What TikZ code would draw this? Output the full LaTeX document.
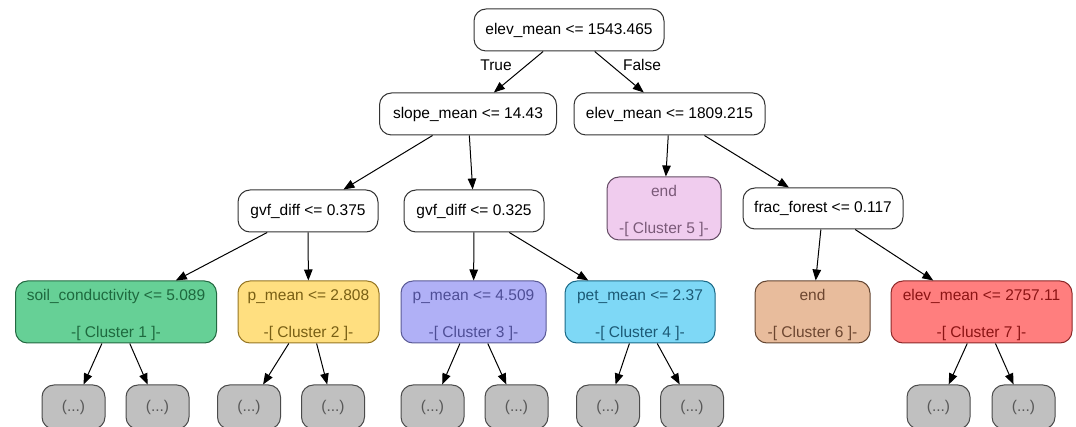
\documentclass[tikz,border=0pt]{standalone}
\usepackage{fontspec}
\setmainfont{Liberation Sans}
\usetikzlibrary{arrows.meta}

% node fills, borders and text tints
\definecolor{greenfill}{RGB}{102,208,150}
\definecolor{greenline}{RGB}{35,105,65}
\definecolor{greentext}{RGB}{30,105,62}
\definecolor{yellowfill}{RGB}{255,223,128}
\definecolor{yellowline}{RGB}{150,118,35}
\definecolor{yellowtext}{RGB}{120,95,20}
\definecolor{lavfill}{RGB}{176,176,246}
\definecolor{lavline}{RGB}{90,90,150}
\definecolor{lavtext}{RGB}{78,78,150}
\definecolor{cyanfill}{RGB}{126,216,246}
\definecolor{cyanline}{RGB}{25,105,135}
\definecolor{cyantext}{RGB}{28,90,118}
\definecolor{pinkfill}{RGB}{240,204,238}
\definecolor{pinkline}{RGB}{100,75,100}
\definecolor{pinktext}{RGB}{122,90,120}
\definecolor{peachfill}{RGB}{232,188,156}
\definecolor{peachline}{RGB}{100,70,50}
\definecolor{peachtext}{RGB}{108,70,48}
\definecolor{redfill}{RGB}{255,126,126}
\definecolor{redline}{RGB}{140,40,40}
\definecolor{redtext}{RGB}{140,20,20}
\definecolor{greyfill}{RGB}{192,192,192}
\definecolor{greyline}{RGB}{75,75,75}
\definecolor{greytext}{RGB}{88,88,88}

% strut that lifts the top of a two-line label
\newcommand{\toplift}{\rule{0pt}{16.5pt}}

\tikzset{
  treenode/.style={draw=black!80, fill=white, rounded corners=12pt, inner sep=0pt,
    line width=1pt, align=center, minimum height=42pt,
    font=\fontsize{15.5}{18}\selectfont},
  clusternode/.style={treenode, minimum height=62pt},
  leafnode/.style={treenode, draw=greyline, fill=greyfill, text=greytext,
    minimum width=63pt, minimum height=44pt},
  edge/.style={draw=black, line width=1pt, -{Triangle[length=11pt,width=8.5pt]}},
  edgelabel/.style={font=\fontsize{15.5}{18}\selectfont}
}

\begin{document}
\begin{tikzpicture}[x=1pt,y=-1pt]
\useasboundingbox (0,0) rectangle (1076,427);
\clip (0,0) rectangle (1076,427);

% split nodes
\node[treenode, minimum width=190pt] (root) at (569,30) {elev\_mean <= 1543.465};
\node[treenode, minimum width=177pt] (slope) at (468,114) {slope\_mean <= 14.43};
\node[treenode, minimum width=191pt] (elevA) at (669.5,114) {elev\_mean <= 1809.215};
\node[treenode, minimum width=140pt] (gvfA) at (308,211) {gvf\_diff <= 0.375};
\node[treenode, minimum width=140pt] (gvfB) at (474,211) {gvf\_diff <= 0.325};
\node[treenode, minimum width=160pt, minimum height=41pt] (frac) at (823,208.5) {frac\_forest <= 0.117};

% cluster nodes
\node[clusternode, minimum width=114pt, minimum height=63pt, fill=pinkfill, draw=pinkline, text=pinktext]
  (c5) at (664,208.5) {\toplift end\\[19pt]-[ Cluster 5 ]-};
\node[clusternode, minimum width=201pt, fill=greenfill, draw=greenline, text=greentext]
  (c1) at (116,312) {\toplift soil\_conductivity <= 5.089\\[19pt]-[ Cluster 1 ]-};
\node[clusternode, minimum width=141pt, fill=yellowfill, draw=yellowline, text=yellowtext]
  (c2) at (308.5,312) {\toplift p\_mean <= 2.808\\[19pt]-[ Cluster 2 ]-};
\node[clusternode, minimum width=145pt, fill=lavfill, draw=lavline, text=lavtext]
  (c3) at (473.5,312) {\toplift p\_mean <= 4.509\\[19pt]-[ Cluster 3 ]-};
\node[clusternode, minimum width=150pt, fill=cyanfill, draw=cyanline, text=cyantext]
  (c4) at (640,312) {\toplift pet\_mean <= 2.37\\[19pt]-[ Cluster 4 ]-};
\node[clusternode, minimum width=115pt, fill=peachfill, draw=peachline, text=peachtext]
  (c6) at (812.5,312) {\toplift end\\[19pt]-[ Cluster 6 ]-};
\node[clusternode, minimum width=181pt, fill=redfill, draw=redline, text=redtext]
  (c7) at (981.5,312) {\toplift elev\_mean <= 2757.11\\[19pt]-[ Cluster 7 ]-};

% truncated subtrees
\node[leafnode] (l1a) at (73.5,407) {(...)};
\node[leafnode] (l1b) at (157.5,407) {(...)};
\node[leafnode] (l2a) at (249,407) {(...)};
\node[leafnode] (l2b) at (333,407) {(...)};
\node[leafnode] (l3a) at (432.5,407) {(...)};
\node[leafnode] (l3b) at (516.5,407) {(...)};
\node[leafnode] (l4a) at (608,407) {(...)};
\node[leafnode] (l4b) at (692,407) {(...)};
\node[leafnode] (l7a) at (938.5,407) {(...)};
\node[leafnode] (l7b) at (1023.5,407) {(...)};

% connectors
\draw[edge] (root) -- (slope);
\draw[edge] (root) -- (elevA);
\draw[edge] (slope) -- (gvfA);
\draw[edge] (slope) -- (gvfB);
\draw[edge] (elevA) -- (c5);
\draw[edge] (elevA) -- (frac);
\draw[edge] (gvfA) -- (c1);
\draw[edge] (gvfA) -- (c2);
\draw[edge] (gvfB) -- (c3);
\draw[edge] (gvfB) -- (c4);
\draw[edge] (frac) -- (c6);
\draw[edge] (frac) -- (c7);
\draw[edge] (c1) -- (l1a);
\draw[edge] (c1) -- (l1b);
\draw[edge] (c2) -- (l2a);
\draw[edge] (c2) -- (l2b);
\draw[edge] (c3) -- (l3a);
\draw[edge] (c3) -- (l3b);
\draw[edge] (c4) -- (l4a);
\draw[edge] (c4) -- (l4b);
\draw[edge] (c7) -- (l7a);
\draw[edge] (c7) -- (l7b);

% branch labels
\node[edgelabel] (tlabel) at (496,65) {True};
\node[edgelabel] (flabel) at (642,65) {False};
\end{tikzpicture}
\end{document}
